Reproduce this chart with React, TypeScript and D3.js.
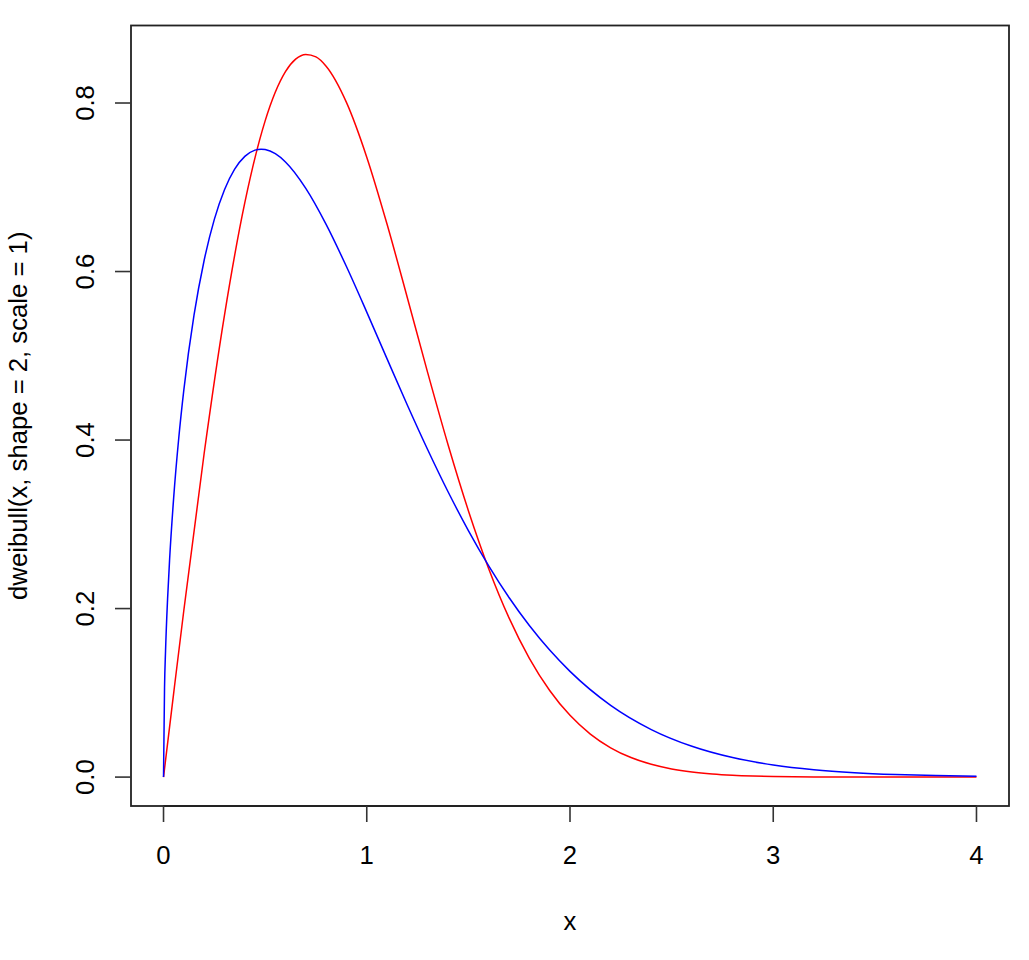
import React from "react";
import * as d3 from "d3";

const redX = [0, 0.05, 0.1, 0.2, 0.3, 0.4, 0.5, 0.6, 0.65, 0.7, 0.75, 0.8, 0.9, 1.0, 1.1, 1.2, 1.3, 1.4, 1.5, 1.6, 1.7, 1.8, 1.9, 2.0, 2.1, 2.2, 2.3, 2.4, 2.5, 2.6, 2.7, 2.8, 2.9, 3.0, 3.2, 3.4, 3.6, 3.8, 4.0];
const redY = [0, 0.09975, 0.19801, 0.38432, 0.54836, 0.68171, 0.7788, 0.83721, 0.85202, 0.85768, 0.85467, 0.84366, 0.80074, 0.73576, 0.65604, 0.56863, 0.47975, 0.39442, 0.3162, 0.24738, 0.18896, 0.14099, 0.1028, 0.07326, 0.05105, 0.03479, 0.02319, 0.01513, 0.00965, 0.00603, 0.00369, 0.0022, 0.00129, 0.00074, 0.00023, 0.000065, 0.000017, 0.000004, 0.000001];

const blueX = [0, 0.005, 0.01, 0.02, 0.03, 0.05, 0.075, 0.1, 0.15, 0.2, 0.25, 0.3, 0.35, 0.4, 0.45, 0.48, 0.5, 0.55, 0.6, 0.7, 0.8, 0.9, 1.0, 1.1, 1.2, 1.3, 1.4, 1.5, 1.6, 1.7, 1.8, 1.9, 2.0, 2.2, 2.4, 2.6, 2.8, 3.0, 3.2, 3.4, 3.6, 3.8, 4.0];
const blueY = [0, 0.10603, 0.14985, 0.21153, 0.25846, 0.33168, 0.40244, 0.45958, 0.54816, 0.61342, 0.66187, 0.69709, 0.72144, 0.73663, 0.74406, 0.74523, 0.74479, 0.73983, 0.73002, 0.6987, 0.65597, 0.60592, 0.55182, 0.49629, 0.44137, 0.3885, 0.33862, 0.29261, 0.2507, 0.21312, 0.17985, 0.15069, 0.12545, 0.08515, 0.05642, 0.03656, 0.02316, 0.0144, 0.00876, 0.00524, 0.00307, 0.00177, 0.00101];

const xTicks = [0, 1, 2, 3, 4];
const yTicks = [0.0, 0.2, 0.4, 0.6, 0.8];
const yTickLabels = ["0.0", "0.2", "0.4", "0.6", "0.8"];
const xTitle = "x";
const yTitle = "dweibull(x, shape = 2, scale = 1)";

const W = 1029;
const H = 960;
const box = { left: 131, right: 1009, top: 25.5, bottom: 806 };
const FONT = "'Liberation Sans', Arial, Helvetica, sans-serif";
const FS = 25.7;

export default function App() {
  const xmin = 0, xmax = 4;
  const ymin = 0, ymax = d3.max(redY.concat(blueY)) as number;
  const xpad = (xmax - xmin) * 0.04;
  const ypad = (ymax - ymin) * 0.04;
  const x = d3.scaleLinear().domain([xmin - xpad, xmax + xpad]).range([box.left, box.right]);
  const y = d3.scaleLinear().domain([ymin - ypad, ymax + ypad]).range([box.bottom, box.top]);

  const line = d3
    .line<[number, number]>()
    .x((d) => x(d[0]))
    .y((d) => y(d[1]))
    .curve(d3.curveMonotoneX);

  const redPts = redX.map((v, i) => [v, redY[i]] as [number, number]);
  const bluePts = blueX.map((v, i) => [v, blueY[i]] as [number, number]);
  const tickLen = 16;

  return (
    <svg
      width={W}
      height={H}
      style={{ position: "absolute", left: 0, top: 0, background: "#fff" }}
      fontFamily={FONT}
    >
      <rect x={0} y={0} width={W} height={H} fill="#fff" />
      <path d={line(redPts) || ""} fill="none" stroke="#ff0000" strokeWidth={1.5} />
      <path d={line(bluePts) || ""} fill="none" stroke="#0000ff" strokeWidth={1.5} />
      <rect
        x={box.left}
        y={box.top}
        width={box.right - box.left}
        height={box.bottom - box.top}
        fill="none"
        stroke="#222"
        strokeWidth={1.8}
      />
      <line x1={x(xTicks[0])} x2={x(xTicks[xTicks.length - 1])} y1={box.bottom} y2={box.bottom} stroke="#222" strokeWidth={1.8} />
      {xTicks.map((t) => (
        <g key={"xt" + t}>
          <line x1={x(t)} x2={x(t)} y1={box.bottom} y2={box.bottom + tickLen} stroke="#333" strokeWidth={1.6} />
          <text x={x(t)} y={864} fontSize={FS} textAnchor="middle" fill="#000">
            {String(t)}
          </text>
        </g>
      ))}
      {yTicks.map((t, i) => (
        <g key={"yt" + t}>
          <line x1={box.left - tickLen} x2={box.left} y1={y(t)} y2={y(t)} stroke="#333" strokeWidth={1.6} />
          <text
            transform={`translate(${94},${y(t)}) rotate(-90)`}
            fontSize={FS}
            textAnchor="middle"
            fill="#000"
          >
            {yTickLabels[i]}
          </text>
        </g>
      ))}
      <text x={(box.left + box.right) / 2} y={930} fontSize={FS} textAnchor="middle" fill="#000">
        {xTitle}
      </text>
      <text
        transform={`translate(${27},${(box.top + box.bottom) / 2}) rotate(-90)`}
        fontSize={FS}
        textAnchor="middle"
        fill="#000"
      >
        {yTitle}
      </text>
    </svg>
  );
}
